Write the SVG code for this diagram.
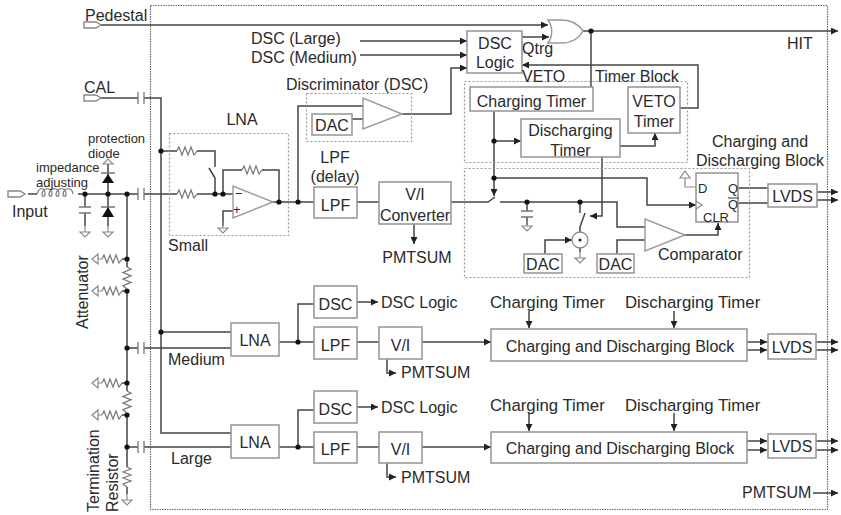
<svg xmlns="http://www.w3.org/2000/svg" width="841" height="515" viewBox="0 0 841 515">
<style>
text{font-family:"Liberation Sans",Arial,sans-serif;font-size:16px;fill:#2a2a2a}
.s{font-size:13px}
.t{font-size:16.800px}
.m{text-anchor:middle}
.b{fill:#fff;stroke:#9a9a9a;stroke-width:1.6}
.d{fill:none;stroke:#999;stroke-width:1.2;stroke-dasharray:2 2}
.o{fill:none;stroke:#666;stroke-width:1.2;stroke-dasharray:1.5 1}
.c{fill:none;stroke:#444;stroke-width:1.5}
.a{marker-end:url(#ah)}
.g{fill:none;stroke:#8a8a8a;stroke-width:1.2}
.k{fill:#111;stroke:none}
.f{fill:#fff;stroke:#999;stroke-width:1.4}
</style>
<defs>
<marker id="ah" markerWidth="8" markerHeight="7" refX="7" refY="3.5" orient="auto" markerUnits="userSpaceOnUse"><path d="M0 0L7 3.5L0 7z" fill="#222"/></marker>
<path id="res" d="M0 0l2-4l3 8l3-8l3 8l3-8l3 8l3-4" fill="none" stroke="#777" stroke-width="1.2"/>
<path id="gnd" d="M0 0v6M-5 6h10L0 11z" fill="none" stroke="#8a8a8a" stroke-width="1.2"/>
<path id="cap" d="M-3-6v12M3-6v12" fill="none" stroke="#777" stroke-width="1.3"/>
<path id="port" d="M0-3H12L17 0L12 3H0z" fill="#fff" stroke="#888" stroke-width="1.4"/>
<circle id="dot" r="2.6" fill="#111"/>
</defs>
<rect class="o" x="150.500" y="5.500" width="677" height="504"/>
<g id="connectors">
<path class="c a" d="M100 25H548"/>
<path class="c" d="M100 98H138M144 98H161V433H231"/>
<path class="c" d="M161 151H177M197 151H215V167M209 168L215 178V194"/>
<path class="c" d="M28 194H37M78 194H138M144 194H177M197 194H233M223 194V170H242M262 170H279V202"/>
<path class="c" d="M233 211H223V226M273 202H314"/>
<path class="c" d="M85 194V207M85 213V226M108 164V226"/>
<path class="c" d="M127 194V267M127 289V391M127 413V467M127 487V494"/>
<path class="c" d="M127 348H138M144 348H231M161 332H231M127 447H138M144 447H231"/>
<path class="c" d="M127 259H122M127 291H122M127 383H122M127 415H122"/>
<path class="c" d="M298 202V106H363M352 119H363"/>
<path class="c a" d="M360 41H467"/>
<path class="c a" d="M360 55H467"/>
<path class="c a" d="M402 114H451V68H467"/>
<path class="c a" d="M522 37H549"/>
<path class="c" d="M583 31H591"/>
<path class="c a" d="M591 31H838"/>
<path class="c" d="M591 31V87"/>
<path class="c a" d="M680 108H698V65H522"/>
<path class="c" d="M357 202H379M451 202H488L495 197M500 202H617V227H645"/>
<path class="c a" d="M414 224V244"/>
<path class="c a" d="M494 111V196"/>
<path class="c a" d="M494 141H521"/>
<path class="c a" d="M494 178H647V205H696"/>
<path class="c a" d="M602 157V216H590"/>
<path class="c a" d="M620 146H655V133"/>
<path class="c" d="M527 202V211M527 217V225"/>
<path class="c" d="M580 202V213M585 213L580 227V232M580 248V252"/>
<path class="c a" d="M545 254V240H572"/>
<path class="c" d="M617 254V240H645"/>
<path class="c a" d="M685 235H718V223"/>
<path class="g" d="M696 187H685V178M680 178H690L685 171z"/>
<path class="c" d="M738 188H768M738 203H768"/>
<path class="c a" d="M817 192H838"/>
<path class="c a" d="M817 200H838"/>
<path class="c" d="M279 342H314M298 342V304H314"/>
<path class="c a" d="M357 302H378"/>
<path class="c" d="M357 342H379"/>
<path class="c a" d="M422 342H491"/>
<path class="c a" d="M387 359V373H396"/>
<path class="c a" d="M529 311V328"/>
<path class="c a" d="M674 311V328"/>
<path class="c a" d="M747 342H767"/>
<path class="c a" d="M747 350H767"/>
<path class="c a" d="M816 342H838"/>
<path class="c a" d="M816 350H838"/>
<path class="c" d="M279 447H314M298 447V410H314"/>
<path class="c a" d="M357 407H378"/>
<path class="c" d="M357 447H379"/>
<path class="c a" d="M422 447H491"/>
<path class="c a" d="M387 463V477H396"/>
<path class="c a" d="M529 413V431"/>
<path class="c a" d="M674 413V431"/>
<path class="c a" d="M747 441H767"/>
<path class="c a" d="M747 450H767"/>
<path class="c a" d="M816 441H838"/>
<path class="c a" d="M816 450H838"/>
<path class="c a" d="M813 493H838"/>
<use href="#dot" x="161" y="151"/><use href="#dot" x="215" y="194"/><use href="#dot" x="223" y="194"/><use href="#dot" x="279" y="202"/><use href="#dot" x="298" y="202"/>
<use href="#dot" x="85" y="194"/><use href="#dot" x="108" y="194"/><use href="#dot" x="127" y="194"/>
<use href="#dot" x="127" y="259"/><use href="#dot" x="127" y="291"/><use href="#dot" x="127" y="348"/><use href="#dot" x="127" y="383"/><use href="#dot" x="127" y="415"/><use href="#dot" x="127" y="447"/><use href="#dot" x="161" y="332"/>
<use href="#dot" x="591" y="31"/><use href="#dot" x="494" y="141"/><use href="#dot" x="494" y="178"/><use href="#dot" x="527" y="202"/><use href="#dot" x="580" y="202"/>
<use href="#dot" x="298" y="342"/><use href="#dot" x="298" y="447"/>
</g>
<g id="input-network">
<use href="#port" x="84" y="25"/><use href="#port" x="84" y="98"/><use href="#port" x="8" y="194"/>
<use href="#cap" x="141" y="98"/><use href="#cap" x="141" y="194"/><use href="#cap" x="141" y="348"/><use href="#cap" x="141" y="447"/>
<path d="M37 194c2-7 8-7 8 0c0 3-3 3-3 0c1-7 10-7 10 0c0 3-3 3-3 0c1-7 10-7 10 0c0 3-3 3-3 0c1-7 10-7 10 0c0 3-3 3-3 0c1-7 9-7 10 0" fill="none" stroke="#777" stroke-width="1.2"/>
<path d="M79 207h12M79 213h12" stroke="#777" stroke-width="1.4"/><use href="#gnd" x="85" y="226"/>
<path class="k" d="M102 183h12l-6-9z"/><path d="M101 173h14M101 207h14" stroke="#777" stroke-width="1.3"/><path class="k" d="M102 217h12l-6-10z"/>
<path class="g" d="M103 164h10l-5-5z"/><use href="#gnd" x="108" y="226"/>
<use href="#res" transform="translate(102 259)"/><use href="#res" transform="translate(102 291)"/><use href="#res" transform="translate(102 383)"/><use href="#res" transform="translate(102 415)"/>
<path class="g" d="M102 259H98M98 254v10l-6-5zM102 291H98M98 286v10l-6-5zM102 383H98M98 378v10l-6-5zM102 415H98M98 410v10l-6-5z"/>
<use href="#res" transform="translate(127 267) rotate(90) scale(1.1 1)"/><use href="#res" transform="translate(127 391) rotate(90) scale(1.1 1)"/><use href="#res" transform="translate(127 467) rotate(90)"/>
<use href="#gnd" x="127" y="494"/>
</g>
<g id="lna-small">
<rect class="d" x="169.500" y="133.500" width="119" height="102"/>
<use href="#res" x="177" y="151"/><use href="#res" x="177" y="194"/><use href="#res" x="242" y="170"/>
<path class="f" d="M233 186V218L273 202z"/>
<text x="235" y="198" class="s">−</text><text x="233" y="214" class="s">+</text>
<use href="#gnd" x="223" y="222"/>
</g>
<g id="dsc-top"><rect class="d" x="306.500" y="93.500" width="105" height="48"/><rect class="b" x="312" y="114" width="40" height="21"/><text x="332" y="131" class="m">DAC</text><path class="f" d="M363 98V129L402 114z"/></g>
<g id="lpf-top"><rect class="b" x="314" y="187" width="43" height="31"/><text x="335.500" y="211" class="m">LPF</text></g>
<g id="vi-top"><rect class="b" x="379" y="182" width="72" height="42"/><text x="415" y="200" class="m">V/I</text><text x="415" y="221" class="m">Converter</text></g>
<g id="dsc-logic"><rect class="b" x="467" y="31" width="55" height="42"/><text x="495" y="49" class="m">DSC</text><text x="495" y="68" class="m">Logic</text></g>
<g id="or-gate"><path class="f" d="M548 20H562C572 20 579 25 583 31C579 38 572 43 562 43H548C553 36 553 27 548 20z"/></g>
<g id="timer-block">
<rect class="d" x="464.500" y="81.500" width="223" height="81"/>
<rect class="b" x="470" y="87" width="123" height="24"/><text x="531.500" y="107" class="m">Charging Timer</text>
<rect class="b" x="521" y="119" width="99" height="38"/><text x="570.500" y="136" class="m">Discharging</text><text x="570.500" y="156" class="m">Timer</text>
<rect class="b" x="628" y="87" width="52" height="46"/><text x="654" y="107" class="m">VETO</text><text x="654" y="127" class="m">Timer</text>
</g>
<g id="charge-block">
<rect class="d" x="464.500" y="168.500" width="285" height="109"/>
<path d="M521 211h12M521 217h12" stroke="#777" stroke-width="1.4"/><use href="#gnd" x="527" y="220"/>
<circle cx="580" cy="240" r="8" fill="#fff" stroke="#888" stroke-width="1.3"/><circle cx="580" cy="240" r="1.500" fill="#222"/><use href="#gnd" x="580" y="252"/>
<rect class="b" x="524" y="254" width="38" height="19"/><text x="543" y="270" class="m">DAC</text>
<rect class="b" x="597" y="254" width="37" height="19"/><text x="615.500" y="270" class="m">DAC</text>
<path class="f" d="M645 219V251L685 235z"/>
<rect class="b" x="696" y="173" width="42" height="49"/>
<path class="g" d="M696 201l6 4l-6 4"/>
<text x="698" y="193" class="s">D</text><text x="728" y="193" class="s">Q</text><text x="728" y="209" class="s">Q</text><path d="M728 198h11" stroke="#333"/><text x="703" y="222" class="s">CLR</text>
</g>
<g id="lvds-top"><rect class="b" x="768" y="184" width="49" height="23"/><text x="792.500" y="202" class="m">LVDS</text></g>
<g id="lna-medium"><rect class="b" x="231" y="323" width="48" height="33"/><text x="255" y="346" class="m">LNA</text></g>
<g id="dsc-medium"><rect class="b" x="314" y="286" width="43" height="32"/><text x="335.500" y="310" class="m">DSC</text></g>
<g id="lpf-medium"><rect class="b" x="314" y="327" width="43" height="32"/><text x="335.500" y="351" class="m">LPF</text></g>
<g id="vi-medium"><rect class="b" x="379" y="327" width="43" height="32"/><text x="400.500" y="351" class="m">V/I</text></g>
<g id="cd-medium"><rect class="b" x="491" y="329" width="256" height="32"/><text x="620" y="352" class="m">Charging and Discharging Block</text></g>
<g id="lvds-medium"><rect class="b" x="768" y="334" width="48" height="25"/><text x="792" y="353" class="m">LVDS</text></g>
<g id="lna-large"><rect class="b" x="231" y="425" width="48" height="33"/><text x="255" y="448" class="m">LNA</text></g>
<g id="dsc-large"><rect class="b" x="314" y="391" width="43" height="32"/><text x="335.500" y="415" class="m">DSC</text></g>
<g id="lpf-large"><rect class="b" x="314" y="432" width="43" height="31"/><text x="335.500" y="455" class="m">LPF</text></g>
<g id="vi-large"><rect class="b" x="379" y="432" width="43" height="31"/><text x="400.500" y="455" class="m">V/I</text></g>
<g id="cd-large"><rect class="b" x="491" y="432" width="256" height="31"/><text x="620" y="454" class="m">Charging and Discharging Block</text></g>
<g id="lvds-large"><rect class="b" x="768" y="434" width="48" height="24"/><text x="792" y="452" class="m">LVDS</text></g>
<g id="labels">
<text x="85" y="21">Pedestal</text><text x="84" y="93">CAL</text><text x="12" y="217">Input</text>
<text x="88" y="143" class="s">protection</text><text x="88" y="158" class="s">diode</text>
<text x="36" y="172" class="s">impedance</text><text x="36" y="187" class="s">adjusting</text>
<text x="242" y="125" class="m">LNA</text><text x="168" y="251">Small</text><text x="168" y="365">Medium</text><text x="171" y="464">Large</text>
<text transform="translate(88 329) rotate(-90)">Attenuator</text>
<text transform="translate(99 512) rotate(-90)">Termination</text>
<text transform="translate(118 512) rotate(-90)">Resistor</text>
<text x="251" y="44">DSC (Large)</text><text x="251" y="63">DSC (Medium)</text>
<text x="286" y="90">Discriminator (DSC)</text>
<text x="335" y="163" class="m">LPF</text><text x="335" y="182" class="m">(delay)</text>
<text x="417" y="263" class="m">PMTSUM</text>
<text x="522" y="54">Qtrg</text><text x="522" y="82">VETO</text><text x="595" y="82">Timer Block</text>
<text x="787" y="49">HIT</text>
<text x="760" y="147" class="m">Charging and</text><text x="760" y="166" class="m">Discharging Block</text>
<text x="658" y="260">Comparator</text>
<text x="381" y="308">DSC Logic</text><text x="401" y="378">PMTSUM</text>
<text x="490" y="308" class="t">Charging Timer</text><text x="625" y="308" class="t">Discharging Timer</text>
<text x="381" y="413">DSC Logic</text><text x="401" y="483">PMTSUM</text>
<text x="490" y="411" class="t">Charging Timer</text><text x="625" y="411" class="t">Discharging Timer</text>
<text x="742" y="498">PMTSUM</text>
</g>
</svg>
